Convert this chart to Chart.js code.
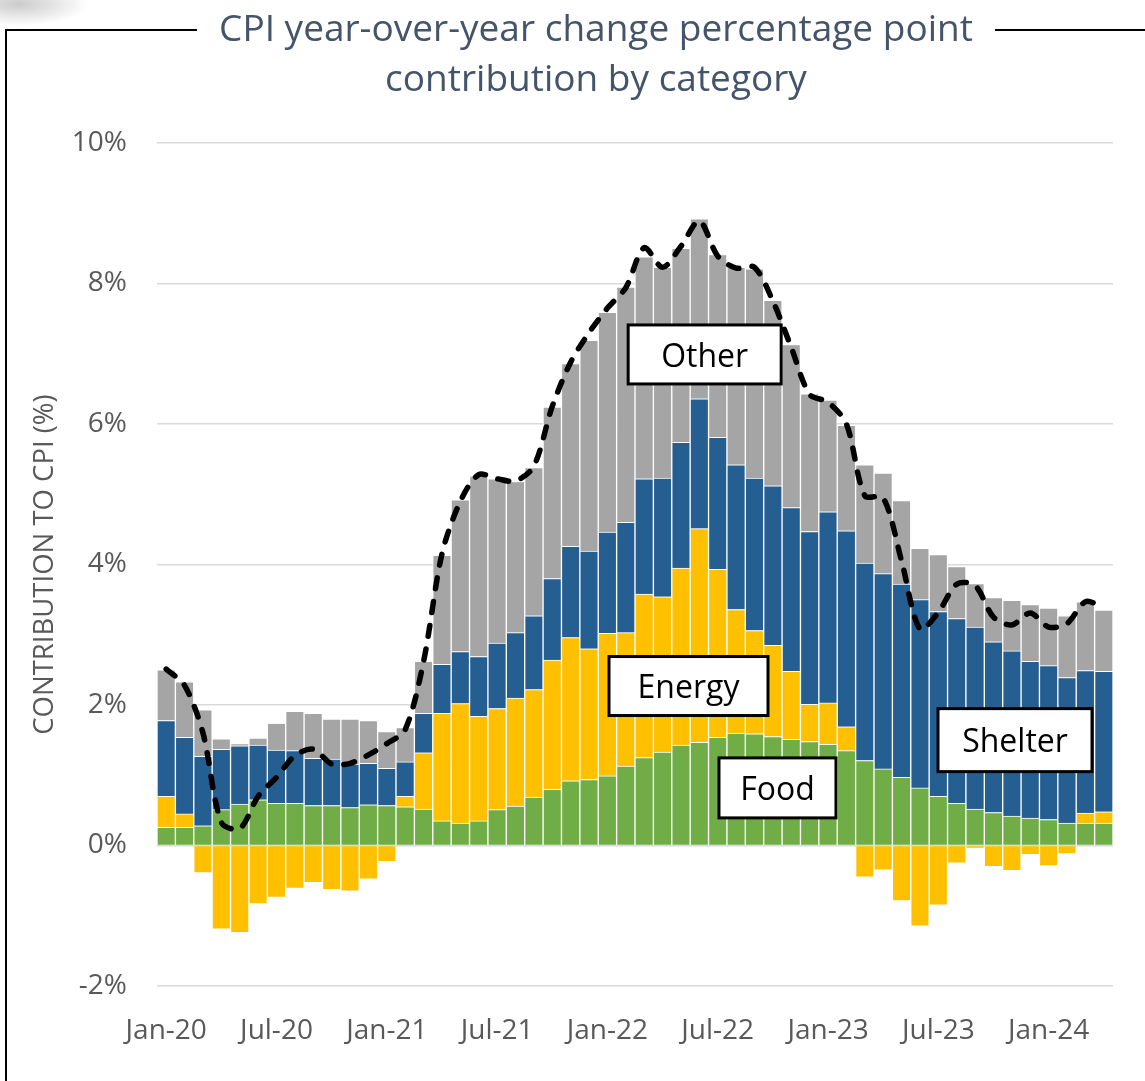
<!DOCTYPE html>
<html>
<head>
<meta charset="utf-8">
<title>CPI contribution by category</title>
<script src="https://cdn.jsdelivr.net/npm/chart.js@4.4.1/dist/chart.umd.min.js"></script>
<style>
  body { margin: 0; background: #fff; font-family: "Open Sans", sans-serif; }
  #wrap { position: relative; width: 1145px; height: 1081px; overflow: hidden; }
  #smudge { position: absolute; left: -20px; top: -14px; width: 110px; height: 40px;
    background: radial-gradient(ellipse at 35% 45%, rgba(160,160,160,0.55), rgba(255,255,255,0) 70%); }
  #frame { position: absolute; left: 5px; top: 29px; right: -10px; bottom: -10px;
    border-left: 2.5px solid #000; border-top: 2.5px solid #000; }
  #title { position: absolute; left: 0; width: 1192px; top: 2px; text-align: center;
    color: #44546A; font-size: 37px; line-height: 50px; }
  #title span { background: #fff; padding: 0 22px; }
  canvas { position: absolute; left: 0; top: 0; }
</style>
</head>
<body>
<div id="wrap">
  <canvas id="cpiChart" width="1145" height="1081"></canvas>
  <div id="smudge"></div>
  <div id="frame"></div>
  <div id="title"><span>CPI year-over-year change percentage point</span><br>contribution by category</div>
</div>
<script>
const months = [
  "Jan-20","Feb-20","Mar-20","Apr-20","May-20","Jun-20","Jul-20","Aug-20","Sep-20","Oct-20","Nov-20","Dec-20",
  "Jan-21","Feb-21","Mar-21","Apr-21","May-21","Jun-21","Jul-21","Aug-21","Sep-21","Oct-21","Nov-21","Dec-21",
  "Jan-22","Feb-22","Mar-22","Apr-22","May-22","Jun-22","Jul-22","Aug-22","Sep-22","Oct-22","Nov-22","Dec-22",
  "Jan-23","Feb-23","Mar-23","Apr-23","May-23","Jun-23","Jul-23","Aug-23","Sep-23","Oct-23","Nov-23","Dec-23",
  "Jan-24","Feb-24","Mar-24","Apr-24"
];
const tickLabels = ["Jan-20","Jul-20","Jan-21","Jul-21","Jan-22","Jul-22","Jan-23","Jul-23","Jan-24"];

// percentage point contributions
const food = [0.26,0.26,0.28,0.51,0.59,0.65,0.60,0.60,0.57,0.57,0.54,0.58,
  0.57,0.55,0.52,0.35,0.32,0.35,0.51,0.56,0.69,0.80,0.92,0.94,
  0.99,1.13,1.25,1.33,1.43,1.47,1.54,1.60,1.59,1.55,1.51,1.48,
  1.44,1.35,1.21,1.09,0.97,0.82,0.70,0.60,0.52,0.47,0.42,0.39,
  0.37,0.32,0.32,0.32];
const energy = [0.44,0.19,-0.39,-1.19,-1.24,-0.83,-0.74,-0.61,-0.53,-0.63,-0.65,-0.48,
  -0.23,0.15,0.80,1.53,1.70,1.49,1.44,1.54,1.53,1.84,2.04,1.86,
  2.03,1.90,2.33,2.21,2.52,3.04,2.39,1.76,1.47,1.30,0.97,0.53,
  0.59,0.34,-0.45,-0.35,-0.79,-1.15,-0.85,-0.25,-0.04,-0.30,-0.36,-0.13,
  -0.29,-0.12,0.14,0.16];
const shelter = [1.08,1.09,0.99,0.86,0.83,0.78,0.76,0.75,0.67,0.66,0.62,0.59,
  0.53,0.49,0.56,0.70,0.74,0.85,0.93,0.93,1.05,1.16,1.30,1.39,
  1.44,1.57,1.64,1.69,1.79,1.85,1.88,2.06,2.17,2.27,2.33,2.46,
  2.72,2.79,2.81,2.78,2.75,2.68,2.63,2.63,2.59,2.43,2.35,2.23,
  2.19,2.07,2.03,2.00];
const other = [0.72,0.79,0.66,0.15,0.03,0.10,0.38,0.56,0.64,0.57,0.64,0.61,
  0.52,0.49,0.74,1.55,2.16,2.57,2.34,2.15,2.11,2.44,2.60,3.00,
  3.13,3.35,3.16,3.00,2.76,2.56,2.60,2.81,2.98,2.64,2.32,1.96,
  1.59,1.50,1.40,1.43,1.19,0.73,0.81,0.74,0.62,0.63,0.72,0.81,
  0.82,0.88,0.98,0.87];
// headline CPI (dashed line)
const cpiTotal = [2.51,2.28,1.60,0.33,0.24,0.70,0.97,1.28,1.37,1.16,1.17,1.29,
  1.45,1.65,2.62,4.15,4.90,5.28,5.22,5.19,5.40,6.25,6.88,7.30,
  7.65,7.94,8.51,8.23,8.53,8.89,8.39,8.22,8.23,7.75,7.09,6.42,
  6.31,6.00,4.98,4.95,4.05,3.08,3.32,3.72,3.70,3.25,3.14,3.31,
  3.11,3.16,3.47,3.39];

// boxed series labels, placed in data coordinates
const labelBoxes = [
  { text: "Other",   at: 29.29, value: 6.99, w: 153, h: 59 },
  { text: "Energy",  at: 28.41, value: 2.27, w: 159, h: 59 },
  { text: "Food",    at: 33.25, value: 0.82, w: 117, h: 60 },
  { text: "Shelter", at: 46.17, value: 1.50, w: 154, h: 63 }
];

const labelBoxPlugin = {
  id: "labelBoxes",
  afterDraw(chart) {
    const { ctx, scales: { x, y } } = chart;
    ctx.save();
    ctx.font = '32px "Open Sans"';
    ctx.textAlign = "center";
    ctx.textBaseline = "middle";
    labelBoxes.forEach(b => {
      const cx = x.getPixelForValue(b.at);
      const cy = y.getPixelForValue(b.value);
      ctx.fillStyle = "#fff";
      ctx.fillRect(cx - b.w / 2, cy - b.h / 2, b.w, b.h);
      ctx.lineWidth = 3;
      ctx.strokeStyle = "#000";
      ctx.strokeRect(cx - b.w / 2, cy - b.h / 2, b.w, b.h);
      ctx.fillStyle = "#000";
      ctx.fillText(b.text, cx, cy + 3);
    });
    ctx.restore();
  }
};

function barSet(label, data, color) {
  return {
    type: "bar",
    label,
    data,
    backgroundColor: color,
    borderColor: "#fff",
    borderWidth: 1,
    stack: "cpi",
    order: 1,
    barPercentage: 1,
    categoryPercentage: 1
  };
}

new Chart(document.getElementById("cpiChart"), {
  data: {
    labels: months,
    datasets: [
      {
        type: "line",
        label: "CPI",
        data: cpiTotal,
        borderColor: "#000",
        borderWidth: 5.5,
        borderDash: [11, 13],
        borderCapStyle: "round",
        pointRadius: 0,
        tension: 0.3,
        fill: false,
        stack: "total",
        order: 0
      },
      barSet("Food", food, "#70AD47"),
      barSet("Energy", energy, "#FFC000"),
      barSet("Shelter", shelter, "#255E91"),
      barSet("Other", other, "#A5A5A5")
    ]
  },
  options: {
    responsive: false,
    animation: false,
    layout: { padding: { left: 0, right: 32, top: 143, bottom: 0 } },
    plugins: {
      legend: { display: false },
      tooltip: { enabled: false }
    },
    scales: {
      x: {
        stacked: true,
        grid: { display: false },
        border: { display: false },
        ticks: {
          autoSkip: false,
          maxRotation: 0,
          padding: 20,
          color: "#595959",
          font: { family: "Open Sans", size: 28 },
          callback: function (value) {
            const lab = this.getLabelForValue(value);
            return tickLabels.includes(lab) ? lab : "";
          }
        },
        afterFit: scale => { scale.height = 95; }
      },
      y: {
        stacked: true,
        min: -2,
        max: 10,
        border: { display: false },
        grid: { color: "#D9D9D9", lineWidth: 1.5, drawTicks: false },
        ticks: {
          stepSize: 2,
          padding: 30,
          color: "#595959",
          font: { family: "Open Sans", size: 28 },
          callback: v => v + "%"
        },
        title: {
          display: true,
          text: "CONTRIBUTION TO CPI (%)",
          color: "#595959",
          font: { family: "Open Sans", size: 27.5 },
          padding: { top: 29, bottom: 0 }
        },
        afterFit: scale => { scale.width = 157; }
      }
    }
  },
  plugins: [labelBoxPlugin]
});
</script>
</body>
</html>
